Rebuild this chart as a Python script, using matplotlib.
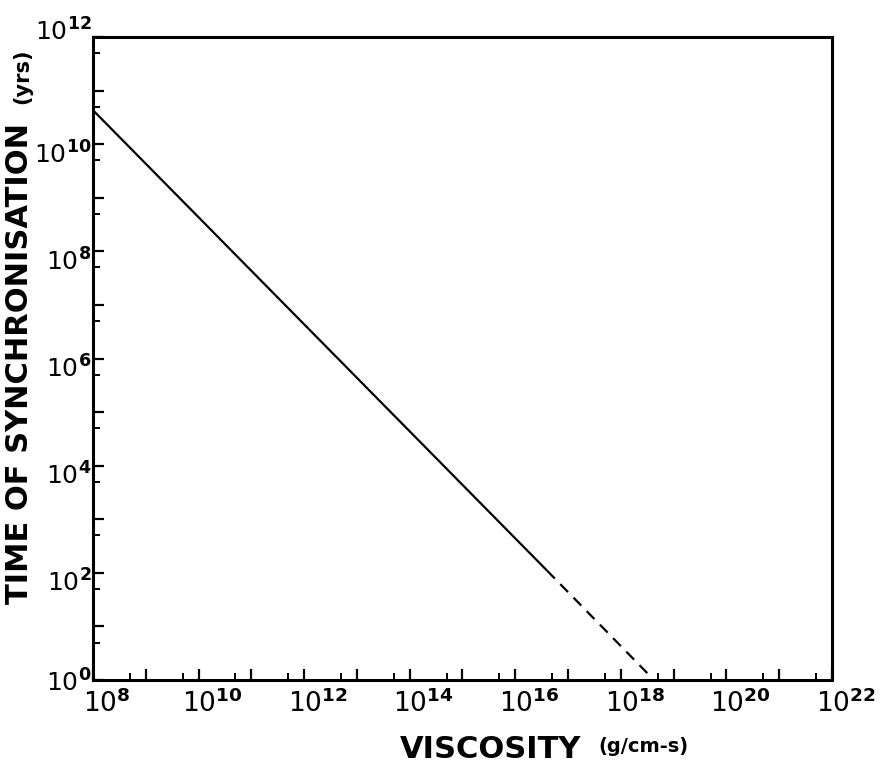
import math
import matplotlib
matplotlib.use("Agg")
import matplotlib.pyplot as plt
from matplotlib.ticker import FixedLocator, FuncFormatter
from matplotlib.transforms import ScaledTranslation

# Data
solid_x = [1e8, 4.0e16]
solid_y = [4.3e10, 1.1e2]
dashed_x = [4.0e16, 3.4e18]
dashed_y = [1.1e2, 1.25]
x_major = [10.0**k for k in range(8, 23)]
x_minor = [5 * 10.0**k for k in range(8, 22)]
y_major = [10.0**k for k in range(0, 13)]
y_minor = [5 * 10.0**k for k in range(0, 12)]
x_labels_exp = list(range(8, 23, 2))
y_labels_exp = list(range(0, 13, 2))

W, H = 884, 764
fig = plt.figure(figsize=(W / 100, H / 100), dpi=100)
ax = fig.add_axes([93 / W, 1 - 680 / H, (832 - 93) / W, (680 - 37) / H])
ax.set_xscale('log')
ax.set_yscale('log')
ax.set_xlim(1e8, 1e22)
ax.set_ylim(1e0, 1e12)

ax.plot(solid_x, solid_y, color='black', lw=1.6, solid_capstyle='butt')
ax.plot(dashed_x, dashed_y, color='black', lw=1.6, dashes=(5, 3.5))

for s in ax.spines.values():
    s.set_linewidth(2.2)

ax.xaxis.set_major_locator(FixedLocator(x_major))
ax.xaxis.set_minor_locator(FixedLocator(x_minor))
ax.yaxis.set_major_locator(FixedLocator(y_major))
ax.yaxis.set_minor_locator(FixedLocator(y_minor))


def make_fmt(shown):
    def f(v, pos):
        e = int(round(math.log10(v)))
        return r'$\mathregular{10}^{\mathbf{%d}}$' % e if e in shown else ''
    return f


ax.xaxis.set_major_formatter(FuncFormatter(make_fmt(x_labels_exp)))
ax.yaxis.set_major_formatter(FuncFormatter(make_fmt(y_labels_exp)))
ax.xaxis.set_minor_formatter(FuncFormatter(lambda v, p: ''))
ax.yaxis.set_minor_formatter(FuncFormatter(lambda v, p: ''))

ax.tick_params(which='major', direction='in', length=8, width=1.6, labelsize=19)
ax.tick_params(axis='y', which='major', labelsize=18, pad=1)
ax.tick_params(axis='x', which='major', pad=5)
ax.tick_params(which='minor', direction='in', length=5, width=1.4)
ax.tick_params(top=False, right=False)

fig.canvas.draw()
# hand-lettered offsets of tick labels
for lab in ax.get_xticklabels():
    lab.set_transform(lab.get_transform() + ScaledTranslation(14 / 100, -3 / 100, fig.dpi_scale_trans))
for tick, lab in zip(ax.get_yticks(), ax.get_yticklabels()):
    e = int(round(math.log10(tick)))
    dy = -8
    if e == 0:
        dy = 0
    elif e == 12:
        dy = 8
    lab.set_transform(lab.get_transform() + ScaledTranslation(0, dy / 100, fig.dpi_scale_trans))

# x axis title
fig.text(400 / W, 1 - 749 / H, 'VISCOSITY', fontsize=22, fontweight='bold', ha='left', va='center')
fig.text(598 / W, 1 - 747 / H, '(g/cm-s)', fontsize=14, fontweight='bold', ha='left', va='center')

# y axis title
ylab_x = 20 / W
fig.text(ylab_x, 1 - 604 / H, 'TIME OF SYNCHRONISATION', fontsize=22, fontweight='bold',
         rotation=90, ha='center', va='bottom')
fig.text(ylab_x + 2 / W, 1 - 48 / H, '(yrs)', fontsize=15, fontweight='bold',
         rotation=90, ha='center', va='top')

fig.savefig('out.png', dpi=100)
